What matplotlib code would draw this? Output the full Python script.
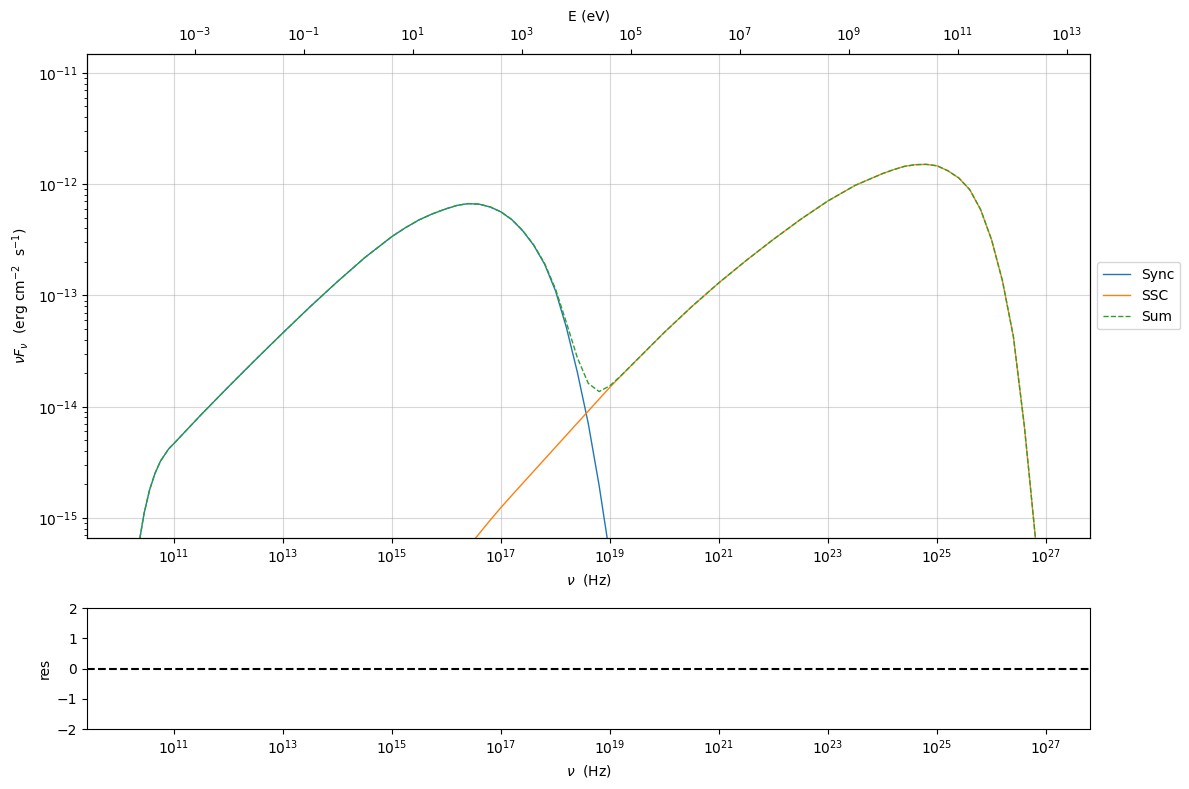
import numpy as np
import matplotlib
matplotlib.use('Agg')
import matplotlib.pyplot as plt

plt.close('all')

# log10(nu / Hz) grid shared by both components
log_nu = [10.35, 10.45, 10.55, 10.65, 10.75, 10.9, 11.0, 11.5, 12.0, 12.5,
          13.0, 13.5, 14.0, 14.5, 15.0, 15.25, 15.5, 15.75, 16.0, 16.2,
          16.4, 16.6, 16.8, 17.0, 17.2, 17.4, 17.6, 17.8, 18.0, 18.2,
          18.4, 18.6, 18.8, 19.0, 19.2, 19.5, 20.0, 20.5, 21.0, 21.5,
          22.0, 22.5, 23.0, 23.5, 24.0, 24.2, 24.4, 24.6, 24.8, 25.0,
          25.2, 25.4, 25.6, 25.8, 26.0, 26.2, 26.4, 26.6, 26.7, 26.8, 26.9]

nan = np.nan

# log10(nu F_nu) synchrotron component
sync_logF = [-15.25, -14.96, -14.75, -14.60, -14.49, -14.38, -14.33, -14.07, -13.82, -13.575,
             -13.335, -13.10, -12.875, -12.66, -12.47, -12.39, -12.32, -12.265, -12.22, -12.19,
             -12.175, -12.18, -12.205, -12.25, -12.32, -12.42, -12.55, -12.72, -12.96, -13.29,
             -13.69, -14.15, -14.71, -15.35, -16.10, nan, nan, nan, nan, nan,
             nan, nan, nan, nan, nan, nan, nan, nan, nan, nan,
             nan, nan, nan, nan, nan, nan, nan, nan, nan, nan, nan]

# log10(nu F_nu) SSC component
ssc_logF = [nan, nan, nan, nan, nan, nan, nan, nan, nan, nan,
            nan, nan, nan, nan, nan, nan, nan, nan, -15.50, -15.38,
            -15.26, -15.14, -15.02, -14.905, -14.795, -14.687, -14.579, -14.471, -14.363, -14.255,
            -14.147, -14.039, -13.931, -13.823, -13.723, -13.575, -13.33, -13.10, -12.885, -12.685,
            -12.495, -12.315, -12.15, -12.01, -11.905, -11.87, -11.84, -11.825, -11.822, -11.835,
            -11.88, -11.945, -12.05, -12.23, -12.50, -12.87, -13.37, -14.17, -14.66, -15.16, -15.80]

nu = 10 ** np.array(log_nu)
sync = 10 ** np.array(sync_logF)
ssc = 10 ** np.array(ssc_logF)
total = np.nan_to_num(sync, nan=0.0) + np.nan_to_num(ssc, nan=0.0)

h_eV = 4.135667696e-15  # Planck constant in eV s
x_lim = (10 ** 9.404, 10 ** 27.807)
y_lim = (10 ** -15.18, 10 ** -10.83)

fig = plt.figure(figsize=(11.89, 7.89), dpi=100)
ax = fig.add_axes([0.0732, 0.3181, 0.8436, 0.6135])
ax_res = fig.add_axes([0.0732, 0.0760, 0.8436, 0.1534])

ax.plot(nu, sync, '-', lw=1, label='Sync')
ax.plot(nu, ssc, '-', lw=1, label='SSC')
ax.plot(nu, total, '--', lw=1, label='Sum')

ax.set_xscale('log')
ax.set_yscale('log')
ax.set_xlim(*x_lim)
ax.set_ylim(*y_lim)
ax.grid(True, alpha=0.5)
ax.set_xlabel(r'$\nu$  (Hz)')
ax.set_ylabel(r'$\nu F_{\nu}$  (erg cm$^{-2}$  s$^{-1}$)')
ax.legend(loc='center left', bbox_to_anchor=(1.0, 0.5))

# energy axis on top
ax_top = ax.twiny()
ax_top.set_xscale('log')
ax_top.set_xlim(x_lim[0] * h_eV, x_lim[1] * h_eV)
ax_top.set_xlabel('E (eV)')

# residuals panel
ax_res.axhline(0, color='black', ls='--')
ax_res.set_xscale('log')
ax_res.set_xlim(*x_lim)
ax_res.set_ylim(-2, 2)
ax_res.set_ylabel('res')
ax_res.set_xlabel(r'$\nu$  (Hz)')

fig.savefig('out.png', dpi=100)
